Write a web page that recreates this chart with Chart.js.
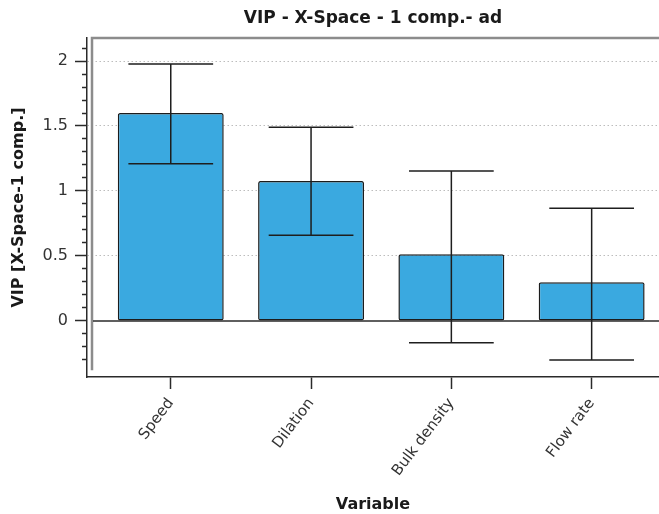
<!DOCTYPE html>
<html>
<head>
<meta charset="utf-8">
<title>VIP</title>
<style type="text/css">
  body{margin:0;background:#fff;}
  .wrap{width:659px;height:514px;}
</style>
</head>
<body>
<div class="wrap">
  <canvas id="vip-chart" width="659" height="514"></canvas>
</div>
<script src="https://cdn.jsdelivr.net/npm/chart.js@4"></script>
<script type="text/javascript">
// variables and VIP values (1 component)
const variables = ['Speed', 'Dilation', 'Bulk density', 'Flow rate'];
const vip = [1.60, 1.077, 0.513, 0.298];
// confidence interval ends
const ciLow = [1.21, 0.66, -0.167, -0.30];
const ciHigh = [1.977, 1.49, 1.154, 0.867];

const FONT = 'DejaVu Sans, Verdana, sans-serif';

function isMajor(v){
  return Math.abs(v * 2 - Math.round(v * 2)) < 1e-6;
}

// frame, zero line and error bars
const decorations = {
  id: 'decorations',
  beforeDatasetsDraw(chart){
    const ctx = chart.ctx, area = chart.chartArea, y = chart.scales.y;
    const fx = area.left + 5;
    ctx.save();
    // grey frame on left and top
    ctx.strokeStyle = '#8c8c8c';
    ctx.lineWidth = 2.5;
    ctx.beginPath();
    ctx.moveTo(fx, y.getPixelForValue(-0.38));
    ctx.lineTo(fx, area.top);
    ctx.lineTo(area.right, area.top);
    ctx.stroke();
    // zero line
    ctx.strokeStyle = '#2a2a2a';
    ctx.lineWidth = 1.5;
    const y0 = y.getPixelForValue(0);
    ctx.beginPath();
    ctx.moveTo(fx + 1, y0);
    ctx.lineTo(area.right, y0);
    ctx.stroke();
    ctx.restore();
  },
  afterDatasetsDraw(chart){
    const ctx = chart.ctx, y = chart.scales.y;
    const bars = chart.getDatasetMeta(0).data;
    ctx.save();
    ctx.strokeStyle = '#1e1e1e';
    ctx.lineWidth = 1.5;
    bars.forEach((bar, i) => {
      const half = bar.width * 0.4;
      const yt = y.getPixelForValue(ciHigh[i]);
      const yb = y.getPixelForValue(ciLow[i]);
      ctx.beginPath();
      ctx.moveTo(bar.x, yt); ctx.lineTo(bar.x, yb);
      ctx.moveTo(bar.x - half, yt); ctx.lineTo(bar.x + half, yt);
      ctx.moveTo(bar.x - half, yb); ctx.lineTo(bar.x + half, yb);
      ctx.stroke();
    });
    ctx.restore();
  }
};

new Chart(document.getElementById('vip-chart'), {
  type: 'bar',
  data: {
    datasets: [{
      data: vip.map((v, i) => ({x: i, y: v})),
      backgroundColor: '#3aa9e0',
      borderColor: '#1c1c1c',
      borderWidth: 1.5,
      borderSkipped: false,
      borderRadius: 2,
      barPercentage: 0.755,
      categoryPercentage: 1
    }]
  },
  options: {
    responsive: false,
    animation: false,
    layout: {padding: {left: 0, right: 0, top: 0, bottom: 0}},
    plugins: {
      legend: {display: false},
      tooltip: {enabled: false},
      title: {
        display: true,
        text: 'VIP - X-Space - 1 comp.- ad',
        fullSize: false,
        color: '#1a1a1a',
        font: {family: FONT, size: 17, weight: 'bold'},
        padding: {top: 8, bottom: 9.6}
      }
    },
    scales: {
      x: {
        type: 'linear',
        min: -0.597,
        max: 3.48,
        offset: false,
        afterFit: s => { s.height = 137; },
        grid: {offset: false, drawOnChartArea: false, tickLength: 12, tickColor: '#2a2a2a', tickWidth: 1.5},
        border: {display: true, color: '#2a2a2a', width: 1.5},
        ticks: {
          stepSize: 1,
          includeBounds: false,
          autoSkip: false,
          minRotation: 53,
          maxRotation: 53,
          padding: 6,
          color: '#333',
          font: {family: FONT, size: 15},
          callback: v => Number.isInteger(v) ? variables[v] : ''
        },
        title: {
          display: true,
          text: 'Variable',
          color: '#1a1a1a',
          font: {family: FONT, size: 16, weight: 'bold'},
          padding: {top: 0, bottom: 0}
        }
      },
      y: {
        min: -0.431,
        max: 2.177,
        afterFit: s => { s.width = 87; },
        grid: {
          color: c => (c.tick && isMajor(c.tick.value) && Math.abs(c.tick.value) > 1e-6) ? '#bdbdbd' : 'rgba(0,0,0,0)',
          lineWidth: 1,
          tickLength: 12,
          tickWidth: 1.5,
          tickColor: c => (c.tick && c.tick.value < -0.35) ? 'rgba(0,0,0,0)' : '#2a2a2a',
          tickBorderDash: c => (c.tick && isMajor(c.tick.value)) ? [] : [5, 7],
          tickBorderDashOffset: c => (c.tick && isMajor(c.tick.value)) ? 0 : 5
        },
        border: {display: true, color: '#2a2a2a', width: 1.5, dash: [1.5, 2.5]},
        ticks: {
          stepSize: 0.1,
          includeBounds: false,
          autoSkip: false,
          padding: 7,
          color: '#333',
          font: {family: FONT, size: 16},
          callback: v => isMajor(v) ? String(Math.round(v * 2) / 2) : ''
        },
        title: {
          display: true,
          text: 'VIP [X-Space-1 comp.]',
          color: '#1a1a1a',
          font: {family: FONT, size: 16, weight: 'bold'},
          padding: {top: 9, bottom: 0}
        }
      }
    }
  },
  plugins: [decorations]
});
</script>
</body>
</html>
